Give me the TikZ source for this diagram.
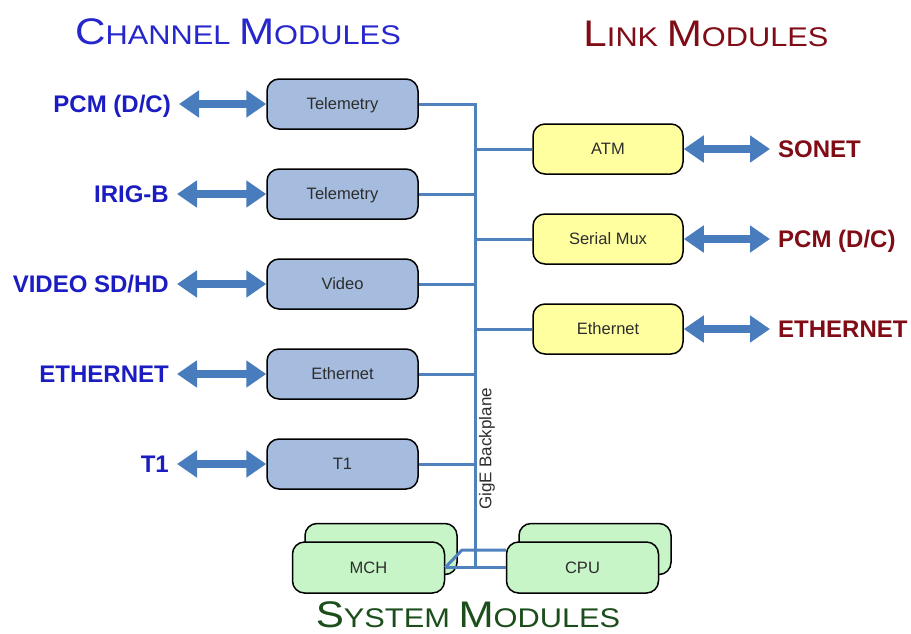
\documentclass[tikz,border=0pt]{standalone}
\usepackage{fontspec}
\setmainfont{Liberation Sans}
\usetikzlibrary{arrows.meta,calc}
\definecolor{chantitle}{RGB}{38,38,205}
\definecolor{chanlab}{RGB}{28,28,195}
\definecolor{linkred}{RGB}{128,12,22}
\definecolor{sysgreen}{RGB}{28,78,28}
\definecolor{buscol}{RGB}{79,129,189}
\definecolor{arrcol}{RGB}{72,124,188}
\definecolor{chanfill}{RGB}{165,188,222}
\definecolor{linkfill}{RGB}{255,255,160}
\definecolor{sysfill}{RGB}{200,245,200}
\definecolor{boxtext}{RGB}{45,45,45}
\newcommand{\titlecaps}[2]{\scalebox{1.14}[1]{\fontsize{37}{40}\selectfont #1\fontsize{27}{30}\selectfont #2}}
\begin{document}
\begin{tikzpicture}[x=1pt,y=-1pt,
  modbox/.style={draw=black,line width=1.5pt,rounded corners=12pt,minimum height=50pt,
    font=\fontsize{16.5}{18}\selectfont,text=boxtext,text height=11.8pt,text depth=0pt,inner sep=0pt},
  chanbox/.style={modbox,fill=chanfill,minimum width=151pt},
  linkbox/.style={modbox,fill=linkfill,minimum width=150pt},
  sysbox/.style={modbox,fill=sysfill,minimum width=152pt,minimum height=51pt},
  lab/.style={font=\bfseries\fontsize{24}{27}\selectfont,text height=17.2pt,text depth=0pt,inner sep=4pt},
  leftlab/.style={lab,text=chanlab,anchor=east},
  rightlab/.style={lab,text=linkred,anchor=west},
  dblarrow/.style={draw=arrcol,line width=7.5pt,
    {Triangle[width=26pt,length=20pt]}-{Triangle[width=26pt,length=20pt]}},
  bus/.style={draw=buscol,line width=3pt}]
\useasboundingbox (0,0) rectangle (911,633);

% titles
\node[text=chantitle,anchor=base,inner sep=0pt] (tch) at (238,44) {\titlecaps{C}{HANNEL }\titlecaps{M}{ODULES}};
\node[text=linkred,anchor=base,inner sep=0pt] (tli) at (706,46) {\titlecaps{L}{INK }\titlecaps{M}{ODULES}};
\node[text=sysgreen,anchor=base,inner sep=0pt] (tsy) at (468,627) {\titlecaps{S}{YSTEM }\titlecaps{M}{ODULES}};

% channel modules
\node[chanbox] (c1) at (342.5,104) {Telemetry};
\node[chanbox] (c2) at (342.5,194) {Telemetry};
\node[chanbox] (c3) at (342.5,284) {Video};
\node[chanbox] (c4) at (342.5,374) {Ethernet};
\node[chanbox] (c5) at (342.5,464) {T1};

\node[leftlab] (e1) at (175,104) {PCM (D/C)};
\node[leftlab] (e2) at (173,194) {IRIG-B};
\node[leftlab] (e3) at (173,284) {VIDEO SD/HD};
\node[leftlab] (e4) at (173,374) {ETHERNET};
\node[leftlab] (e5) at (173,464) {T1};

% link modules
\node[linkbox] (l1) at (608,149) {ATM};
\node[linkbox] (l2) at (608,239) {Serial Mux};
\node[linkbox] (l3) at (608,329) {Ethernet};

\node[rightlab] (r1) at (774,149) {SONET};
\node[rightlab] (r2) at (774,239) {PCM (D/C)};
\node[rightlab] (r3) at (774,329) {ETHERNET};

% system modules
\node[sysbox] (mchb) at (381,549) {};
\node[sysbox] (cpub) at (595,549) {};
\node[sysbox] (mch) at (368.5,567.5) {MCH};
\node[sysbox] (cpu) at (582.5,567.5) {CPU};

% arrows
\foreach \i in {1,...,5}{
  \draw[dblarrow] ($(e\i.east |- c\i.west)+(4,0)$) -- (c\i.west);
}
\foreach \i in {1,2,3}{
  \draw[dblarrow] (l\i.east) -- ($(r\i.west |- l\i.east)+(-4,0)$);
}

% backplane
\coordinate (bt) at (475,104);
\coordinate (bb) at (475,567.5);
\coordinate (dj) at (462,550);
\draw[bus] (c1.east) -| (bb);
\foreach \i in {2,...,5}{
  \draw[bus] (c\i.east) -- (c\i.east -| bt);
}
\foreach \i in {1,2,3}{
  \draw[bus] (l\i.west) -- (l\i.west -| bt);
}
\draw[bus] (mch.east) -- (cpu.west);
\draw[bus,line join=round] (mch.east) -- (dj) -- (dj -| cpu.west);

\node[rotate=90,font=\fontsize{17}{19}\selectfont,text=boxtext,inner sep=0pt] (gige) at (487,449) {GigE Backplane};
\end{tikzpicture}
\end{document}
